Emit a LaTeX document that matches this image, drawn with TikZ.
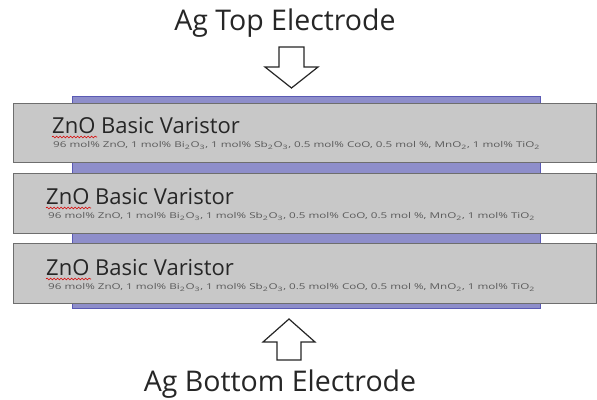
\documentclass[tikz,border=0pt]{standalone}
\usepackage{fontspec}
\setmainfont{Open Sans}
\usetikzlibrary{decorations.pathmorphing}
\definecolor{boxgray}{HTML}{C8C8C8}
\definecolor{boxedge}{HTML}{6E6E6E}
\definecolor{agfill}{HTML}{8E8ECA}
\definecolor{agedge}{HTML}{5A5AB4}
\definecolor{txt}{HTML}{262626}
\definecolor{smalltxt}{HTML}{5A5A5A}
\begin{document}
\begin{tikzpicture}[x=1pt,y=-1pt,
  layerbox/.style={draw=boxedge, line width=1.3pt, fill=boxgray, anchor=north west, inner sep=0pt, minimum width=583pt, minimum height=59.5pt},
  agstrip/.style={draw=agedge, line width=1pt, fill=agfill, anchor=north west, inner sep=0pt, minimum width=468pt},
  bigtxt/.style={anchor=base west, inner sep=0pt, font=\fontsize{22}{26}\selectfont, text=txt},
  smtxt/.style={anchor=base west, inner sep=0pt, font=\fontsize{8}{9}\selectfont, text=smalltxt},
  ttl/.style={anchor=base, inner sep=0pt, font=\fontsize{28.5}{32}\selectfont, text=txt},
  blockarrow/.style={draw=txt, line width=1.2pt, fill=white, line join=miter},
  squiggle/.style={draw=red!85!black, line width=0.6pt, decorate, decoration={snake, amplitude=0.9pt, segment length=3.5pt}}
]
\useasboundingbox (0,0) rectangle (597,399);
\fill[white] (0,0) rectangle (597,399);
% silver electrodes
\node[agstrip, minimum height=7pt] (e0) at (72,96) {};
\node[agstrip, minimum height=11pt] (e1) at (72,162) {};
\node[agstrip, minimum height=11pt] (e2) at (72,232) {};
\node[agstrip, minimum height=6pt] (e3) at (72,302) {};
% layers
\node[layerbox] (b1) at (13,102.5) {};
\node[layerbox] (b2) at (13,173) {};
\node[layerbox] (b3) at (13,243) {};
\newcommand{\compo}{\resizebox{487pt}{\height}{96 mol\% ZnO, 1 mol\% Bi\textsubscript{2}O\textsubscript{3}, 1 mol\% Sb\textsubscript{2}O\textsubscript{3}, 0.5 mol\% CoO, 0.5 mol \%, MnO\textsubscript{2}, 1 mol\% TiO\textsubscript{2}}}
\node[bigtxt] (t1) at (52,133) {ZnO Basic Varistor};
\node[smtxt] (s1) at (53,147.5) {\compo};
\node[bigtxt] (t2) at (46,204) {ZnO Basic Varistor};
\node[smtxt] (s2) at (48,218.5) {\compo};
\node[bigtxt] (t3) at (46,275) {ZnO Basic Varistor};
\node[smtxt] (s3) at (48,289.5) {\compo};
\draw[squiggle] (52,137) -- (97,137);
\draw[squiggle] (46,208) -- (91,208);
\draw[squiggle] (46,279) -- (91,279);
% titles
\node[ttl] (top) at (285,30) {Ag Top Electrode};
\node[ttl] (bot) at (280,391) {Ag Bottom Electrode};
% block arrows
\draw[blockarrow] (279,47) -- (304,47) -- (304,67) -- (318,67) -- (291.5,88) -- (265,67) -- (279,67) -- cycle;
\draw[blockarrow] (277,360) -- (301,360) -- (301,342) -- (315,342) -- (289,319) -- (263,342) -- (277,342) -- cycle;
\end{tikzpicture}
\end{document}
